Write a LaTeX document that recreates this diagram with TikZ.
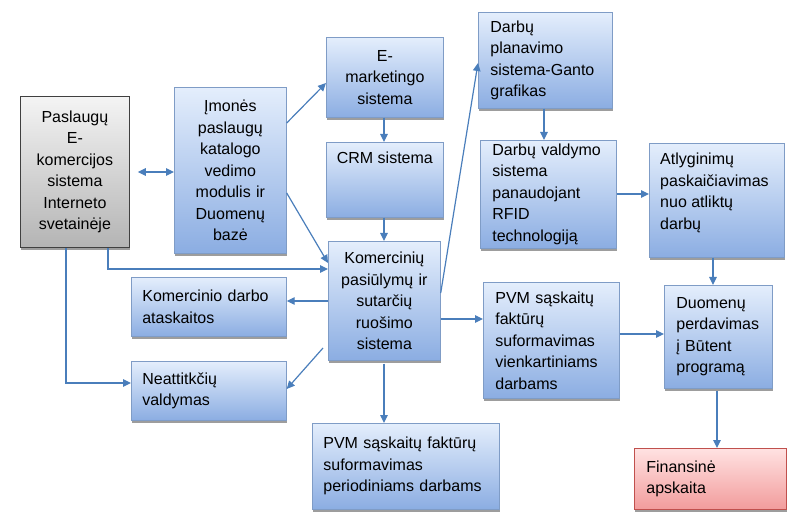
\documentclass[tikz,border=0pt]{standalone}
\usepackage{fontspec}
\setmainfont{Liberation Sans}
\usetikzlibrary{arrows.meta,shadows}
\hyphenpenalty=10000
\exhyphenpenalty=10000
\definecolor{btop}{HTML}{E4EEFC}
\definecolor{bbot}{HTML}{8BADE2}
\definecolor{bdraw}{HTML}{7F9CC6}
\definecolor{gtop}{HTML}{F4F4F4}
\definecolor{gbot}{HTML}{B4B4B4}
\definecolor{gdraw}{HTML}{404040}
\definecolor{rtop}{HTML}{FFE2E2}
\definecolor{rbot}{HTML}{F29C9C}
\definecolor{rdraw}{HTML}{C0504D}
\definecolor{arrc}{HTML}{4A7EBB}
\tikzset{
  base/.style={anchor=north west, inner ysep=2pt, font=\fontsize{16}{21.5}\selectfont,
    drop shadow={shadow xshift=1pt, shadow yshift=-2.6pt, fill=black!55, opacity=0.7}},
  bluebox/.style={base, draw=bdraw, line width=0.7pt, top color=btop, bottom color=bbot},
  graybox/.style={base, draw=gdraw, line width=0.8pt, top color=gtop, bottom color=gbot},
  redbox/.style={base, draw=rdraw, line width=0.7pt, top color=rtop, bottom color=rbot},
  ctr/.style={align=center, inner xsep=8pt},
  lft/.style={align=left, inner xsep=12pt},
  lbl/.style={font=\fontsize{16}{21.5}\selectfont, inner sep=0pt, align=left},
  arr/.style={draw=arrc, line width=1.2pt, -{Triangle[length=8pt,width=7.5pt]}},
  dbl/.style={draw=arrc, line width=1.2pt, {Triangle[length=8pt,width=7.5pt]}-{Triangle[length=8pt,width=7.5pt]}}
}
\begin{document}
\begin{tikzpicture}[x=1pt,y=-1pt]
\useasboundingbox (0,0) rectangle (800,526);
% boxes
\node[graybox, ctr, minimum width=109pt, minimum height=151pt, text width=93pt] (pas) at (20,96)
  {Paslaugų\\E-\\komercijos\\sistema\\Interneto\\svetainėje};
\node[bluebox, ctr, minimum width=112pt, minimum height=166pt, text width=96pt] (imo) at (174,87)
  {Įmonės\\paslaugų\\katalogo\\vedimo\\modulis ir\\Duomenų\\bazė};
\node[bluebox, ctr, minimum width=117pt, minimum height=80pt, text width=101pt] (emk) at (326,37)
  {E-\\marketingo\\sistema};
\node[bluebox, minimum width=117pt, minimum height=75pt,
  label={[lbl, anchor=north, yshift=-10pt]north:CRM sistema}] (crm) at (326,142) {};
\node[bluebox, ctr, minimum width=112pt, minimum height=119pt, text width=96pt] (kom) at (328,241)
  {Komercinių\\pasiūlymų ir\\sutarčių\\ruošimo\\sistema};
\node[bluebox, lft, minimum width=134pt, minimum height=96pt, text width=110pt] (dpl) at (478,12)
  {Darbų\\planavimo\\sistema-Ganto\\grafikas};
\node[bluebox, lft, minimum width=136pt, minimum height=108pt, text width=112pt] (dvl) at (480,140)
  {Darbų valdymo\\sistema\\panaudojant\\RFID\\technologiją};
\node[bluebox, minimum width=135pt, minimum height=114pt,
  label={[lbl, anchor=north west, xshift=11pt, yshift=-10pt]north west:Atlyginimų\\paskaičiavimas\\nuo atliktų\\darbų}] (atl) at (649,143) {};
\node[bluebox, lft, minimum width=108pt, minimum height=103pt, text width=84pt] (duo) at (664,285)
  {Duomenų\\perdavimas\\į Būtent\\programą};
\node[bluebox, lft, minimum width=136pt, minimum height=116pt, text width=112pt] (pvm1) at (483,282)
  {PVM sąskaitų\\faktūrų\\suformavimas\\vienkartiniams\\darbams};
\node[redbox, lft, minimum width=152pt, minimum height=61pt, text width=128pt] (fin) at (634,448)
  {Finansinė\\apskaita};
\node[bluebox, lft, inner xsep=11pt, minimum width=155pt, minimum height=59pt, text width=133pt] (kda) at (131,277)
  {Komercinio darbo\\ataskaitos};
\node[bluebox, lft, inner xsep=11pt, minimum width=155pt, minimum height=59pt, text width=133pt] (nea) at (131,361)
  {Neattitkčių\\valdymas};
\node[bluebox, lft, inner xsep=11pt, minimum width=187pt, minimum height=86pt, text width=165pt] (pvm2) at (312,423)
  {PVM sąskaitų faktūrų\\suformavimas\\periodiniams darbams};
% connectors
\draw[dbl] ([xshift=8pt]pas.east |- 0,172) -- (imo.west |- 0,172);
\draw[arr] (imo.east |- 0,123) -- (emk.west |- 0,83);
\draw[arr] (imo.east |- 0,193) -- (kom.west |- 0,263);
\draw[arr] (pas.south -| 108,0) |- (kom.west |- 0,269);
\draw[arr] (pas.south -| 66,0) |- (nea.west |- 0,383);
\draw[arr] (emk.south -| 384,0) -- (crm.north -| 384,0);
\draw[arr] (crm.south -| 384,0) -- (kom.north -| 384,0);
\draw[arr] (kom.east |- 0,293) -- (dpl.west |- 0,63);
\draw[arr] (dpl.south -| 544,0) -- (dvl.north -| 544,0);
\draw[arr] (dvl.east |- 0,194) -- (atl.west |- 0,194);
\draw[arr] (atl.south -| 713,0) -- (duo.north -| 713,0);
\draw[arr] (kom.east |- 0,319) -- (pvm1.west |- 0,319);
\draw[arr] (pvm1.east |- 0,334) -- (duo.west |- 0,334);
\draw[arr] ([yshift=-2pt]duo.south -| 717,0) -- (fin.north -| 717,0);
\draw[arr] (kom.west |- 0,301) -- (kda.east |- 0,301);
\draw[arr] ([xshift=-5pt]kom.west |- 0,348) -- (nea.east |- 0,389);
\draw[arr] ([yshift=-3pt]kom.south -| 384,0) -- (pvm2.north -| 384,0);
\end{tikzpicture}
\end{document}
